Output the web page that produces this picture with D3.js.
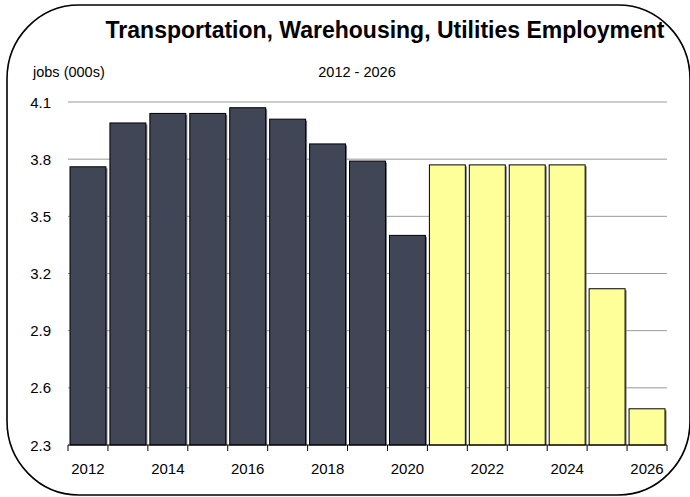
<!DOCTYPE html>
<html>
<head>
<meta charset="utf-8">
<script src="https://cdn.jsdelivr.net/npm/d3@7"></script>
<style>
  body { margin: 0; background: #fff; }
  svg { display: block; font-family: "Liberation Sans", Arial, sans-serif; }
</style>
</head>
<body>
<div id="chart"></div>
<script>
'use strict';

var years = [2012, 2013, 2014, 2015, 2016, 2017, 2018, 2019, 2020, 2021, 2022, 2023, 2024, 2025, 2026];
var jobs = [3.76, 3.99, 4.04, 4.04, 4.07, 4.01, 3.88, 3.79, 3.40, 3.77, 3.77, 3.77, 3.77, 3.12, 2.49];
var projected = [false, false, false, false, false, false, false, false, false, true, true, true, true, true, true];
var yTicks = [2.3, 2.6, 2.9, 3.2, 3.5, 3.8, 4.1];
var xLabels = [2012, 2014, 2016, 2018, 2020, 2022, 2024, 2026];

var width = 690;
var height = 497;
var margin = {top: 102, left: 68, bottom: 52, right: 23};

var svg = d3.select('#chart').append('svg')
    .attr('width', width)
    .attr('height', height);

// rounded frame
svg.append('rect')
    .attr('x', 7)
    .attr('y', 5)
    .attr('width', 683)
    .attr('height', 490)
    .attr('rx', 72)
    .attr('ry', 74)
    .attr('fill', 'none')
    .attr('stroke', '#000')
    .attr('stroke-width', 1.6);

svg.append('text')
    .attr('x', 385)
    .attr('y', 38)
    .attr('text-anchor', 'middle')
    .attr('font-size', 23)
    .attr('font-weight', 'bold')
    .text('Transportation, Warehousing, Utilities Employment');

svg.append('text')
    .attr('x', 33)
    .attr('y', 77)
    .attr('font-size', 14.5)
    .text('jobs (000s)');

svg.append('text')
    .attr('x', 357)
    .attr('y', 77)
    .attr('text-anchor', 'middle')
    .attr('font-size', 14.5)
    .text('2012 - 2026');

var x = d3.scaleBand()
    .domain(years)
    .range([margin.left, width - margin.right])
    .paddingInner(0.1)
    .paddingOuter(0.05);

var y = d3.scaleLinear()
    .domain([2.3, 4.1])
    .range([height - margin.bottom, margin.top]);

// gridlines
svg.append('g')
    .selectAll('line')
    .data(yTicks.slice(1))
    .enter()
    .append('line')
        .attr('x1', margin.left)
        .attr('x2', width - margin.right)
        .attr('y1', function(d) { return y(d); })
        .attr('y2', function(d) { return y(d); })
        .attr('stroke', '#999')
        .attr('stroke-width', 1);

// y labels
svg.append('g')
    .selectAll('text')
    .data(yTicks)
    .enter()
    .append('text')
        .attr('x', 51)
        .attr('y', function(d) { return y(d) + 5.5; })
        .attr('text-anchor', 'end')
        .attr('font-size', 15)
        .text(function(d) { return d3.format('.1f')(d); });

var data = years.map(function(yr, i) {
    return {year: yr, val: jobs[i], proj: projected[i]};
});

var bars = svg.append('g');

// slight shadow on right side
bars.selectAll('rect.shadow')
    .data(data)
    .enter()
    .append('rect')
        .attr('class', 'shadow')
        .attr('x', function(d) { return x(d.year) + 1.5; })
        .attr('y', function(d) { return y(d.val) + 1.5; })
        .attr('width', x.bandwidth())
        .attr('height', function(d) { return y(2.3) - y(d.val) - 1.5; })
        .attr('fill', '#777');

bars.selectAll('rect.bar')
    .data(data)
    .enter()
    .append('rect')
        .attr('class', 'bar')
        .attr('x', function(d) { return x(d.year); })
        .attr('y', function(d) { return y(d.val); })
        .attr('width', x.bandwidth())
        .attr('height', function(d) { return y(2.3) - y(d.val); })
        .attr('fill', function(d) { return d.proj ? '#ffff99' : '#404656'; })
        .attr('stroke', '#000')
        .attr('stroke-width', 1);

// x axis
var axisY = y(2.3);
var xAxis = svg.append('g');
xAxis.append('line')
    .attr('x1', margin.left)
    .attr('x2', width - margin.right)
    .attr('y1', axisY)
    .attr('y2', axisY)
    .attr('stroke', '#000')
    .attr('stroke-width', 1.2);

var boundaries = years.concat([years[years.length - 1] + 1]);
xAxis.selectAll('line.tick')
    .data(boundaries)
    .enter()
    .append('line')
        .attr('class', 'tick')
        .attr('x1', function(d, i) { return margin.left + i * (width - margin.right - margin.left) / years.length; })
        .attr('x2', function(d, i) { return margin.left + i * (width - margin.right - margin.left) / years.length; })
        .attr('y1', axisY)
        .attr('y2', axisY + 6)
        .attr('stroke', '#000');

xAxis.selectAll('text')
    .data(xLabels)
    .enter()
    .append('text')
        .attr('x', function(d) { return x(d) + x.bandwidth() / 2; })
        .attr('y', axisY + 29)
        .attr('text-anchor', 'middle')
        .attr('font-size', 15)
        .text(function(d) { return d; });
</script>
</body>
</html>
